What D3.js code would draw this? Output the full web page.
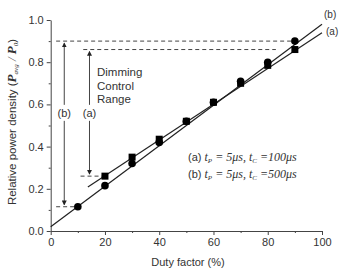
<!DOCTYPE html>
<html lang="en">
<head>
<meta charset="UTF-8">
<title>Dimming control range</title>
<script src="https://cdn.jsdelivr.net/npm/d3@7"></script>
<style>
  body { margin: 0; background: #fff; }
  text { font-family: Arial, "Liberation Sans", sans-serif; fill: #333; }
  .fit { stroke: #222; stroke-width: 1.2px; fill: none; }
  .guide { stroke: #444; stroke-width: 1px; stroke-dasharray: 4,3; }
  .arrow { stroke: #444; stroke-width: 1px; }
  .axis path, .axis line { stroke: #444; }
  .axis text { font-size: 11px; fill: #333; }
  .math { font-family: "Liberation Serif", "DejaVu Serif", serif; font-style: italic; }
</style>
</head>
<body>
<svg width="344" height="268"></svg>
<script>
// duty factor (%) and measured relative power density
var dutyA = [20, 30, 40, 50, 60, 70, 80, 90];
var powerA = [0.26, 0.35, 0.435, 0.52, 0.61, 0.70, 0.785, 0.86];
var dutyB = [10, 20, 30, 40, 50, 60, 70, 80, 90];
var powerB = [0.115, 0.215, 0.32, 0.42, 0.52, 0.61, 0.71, 0.80, 0.90];

// fitted lines [x, y] end points
var fitA = [[13.7, 0.208], [100, 0.94]];
var fitB = [[0, 0.02], [100, 0.98]];

var xTicks = [0, 20, 40, 60, 80, 100];
var yTicks = [0.0, 0.2, 0.4, 0.6, 0.8, 1.0];

// dimming range guides: [x from, x to, y]
var guides = [[2, 89, 0.90], [12, 83, 0.86], [11, 19, 0.26], [2, 9, 0.115]];
// arrows: [x, y top, y bottom, label, label y]
var arrows = [[5, 0.89, 0.125, "(b)", 0.56], [14.3, 0.85, 0.27, "(a)", 0.56]];

var svg = d3.select("svg");
var x = d3.scaleLinear().domain([0, 100]).range([50.7, 322]);
var y = d3.scaleLinear().domain([0, 1.0]).range([231, 20]);

var defs = svg.append("defs");
defs.append("marker").attr("id", "head")
    .attr("viewBox", "0 0 6 6").attr("refX", 5).attr("refY", 3)
    .attr("markerWidth", 5).attr("markerHeight", 5).attr("orient", "auto-start-reverse")
  .append("path").attr("d", "M0,0L6,3L0,6Z").attr("fill", "#222");

// axes
svg.append("g").attr("class", "axis")
    .attr("transform", "translate(0," + y(0) + ")")
    .call(d3.axisBottom(x).tickValues(xTicks).tickFormat(d3.format("d")).tickSize(4).tickSizeOuter(0));
svg.append("g").attr("class", "axis")
    .attr("transform", "translate(0," + y(0) + ")")
    .call(d3.axisBottom(x).tickValues([10, 30, 50, 70, 90]).tickFormat("").tickSize(2).tickSizeOuter(0))
    .select(".domain").remove();
svg.append("g").attr("class", "axis")
    .attr("transform", "translate(" + x(0) + ",0)")
    .call(d3.axisLeft(y).tickValues(yTicks).tickFormat(d3.format(".1f")).tickSize(4).tickSizeOuter(0));
svg.append("g").attr("class", "axis")
    .attr("transform", "translate(" + x(0) + ",0)")
    .call(d3.axisLeft(y).tickValues([0.1, 0.3, 0.5, 0.7, 0.9]).tickFormat("").tickSize(2).tickSizeOuter(0))
    .select(".domain").remove();

// guides
svg.selectAll(".guide").data(guides).enter().append("line")
    .attr("class", "guide")
    .attr("x1", function(d) { return x(d[0]); })
    .attr("x2", function(d) { return x(d[1]); })
    .attr("y1", function(d) { return y(d[2]); })
    .attr("y2", function(d) { return y(d[2]); });

// arrows
var arr = svg.selectAll(".arr").data(arrows).enter().append("g");
arr.append("line").attr("class", "arrow")
    .attr("x1", function(d) { return x(d[0]); })
    .attr("x2", function(d) { return x(d[0]); })
    .attr("y1", function(d) { return y(d[1]); })
    .attr("y2", function(d) { return y(d[2]); })
    .attr("marker-start", "url(#head)")
    .attr("marker-end", "url(#head)");
arr.append("rect")
    .attr("x", function(d) { return x(d[0]) - 9; })
    .attr("y", function(d) { return y(d[4]) - 8; })
    .attr("width", 18).attr("height", 16).attr("fill", "#fff");
arr.append("text")
    .attr("x", function(d) { return x(d[0]); })
    .attr("y", function(d) { return y(d[4]) + 4; })
    .attr("text-anchor", "middle").attr("font-size", 11)
    .text(function(d) { return d[3]; });

// fitted lines
var line = d3.line().x(function(d) { return x(d[0]); }).y(function(d) { return y(d[1]); });
svg.append("path").attr("class", "fit").attr("d", line(fitA));
svg.append("path").attr("class", "fit").attr("d", line(fitB));

// markers
svg.selectAll(".sq").data(dutyA).enter().append("rect")
    .attr("x", function(d) { return x(d) - 3.5; })
    .attr("y", function(d, i) { return y(powerA[i]) - 3.5; })
    .attr("width", 7).attr("height", 7).attr("fill", "#000");
svg.selectAll(".dot").data(dutyB).enter().append("circle")
    .attr("cx", function(d) { return x(d); })
    .attr("cy", function(d, i) { return y(powerB[i]); })
    .attr("r", 3.8).attr("fill", "#000");

// line labels
svg.append("text").attr("x", 324).attr("y", 18).attr("font-size", 10).text("(b)");
svg.append("text").attr("x", 326).attr("y", 35).attr("font-size", 10).text("(a)");

// range label
["Dimming", "Control", "Range"].forEach(function(s, i) {
  svg.append("text").attr("x", 97).attr("y", 76 + i * 13.5).attr("font-size", 11.5).text(s);
});

// legend
var legend = [["(a)", "100"], ["(b)", "500"]];
legend.forEach(function(d, i) {
  var t = svg.append("text").attr("x", 188).attr("y", 161 + i * 16.5).attr("font-size", 11);
  t.append("tspan").text(d[0] + "  ");
  t.append("tspan").attr("class", "math").attr("font-size", 12).text("t");
  t.append("tspan").attr("class", "math").attr("font-size", 7).attr("dy", 2).text("P");
  t.append("tspan").attr("class", "math").attr("font-size", 12).attr("dy", -2).text(" = 5\u03bcs,  t");
  t.append("tspan").attr("class", "math").attr("font-size", 7).attr("dy", 2).text("C");
  t.append("tspan").attr("class", "math").attr("font-size", 12).attr("dy", -2).text(" =" + d[1] + "\u03bcs");
});

// axis titles
svg.append("text").attr("x", 188).attr("y", 266).attr("text-anchor", "middle")
    .attr("font-size", 11).text("Duty factor (%)");
var yt = svg.append("text").attr("transform", "translate(16,122) rotate(-90)")
    .attr("text-anchor", "middle").attr("font-size", 11.5);
yt.append("tspan").text("Relative power density (");
yt.append("tspan").attr("class", "math").attr("font-weight", "bold").attr("font-size", 13).text("P");
yt.append("tspan").attr("class", "math").attr("font-size", 7).attr("dy", 2).text("avg");
yt.append("tspan").attr("class", "math").attr("font-size", 13).attr("dy", -2).text(" / ");
yt.append("tspan").attr("class", "math").attr("font-weight", "bold").attr("font-size", 13).text("P");
yt.append("tspan").attr("class", "math").attr("font-size", 7).attr("dy", 2).text("0");
yt.append("tspan").attr("dy", -2).text(")");
</script>
</body>
</html>
